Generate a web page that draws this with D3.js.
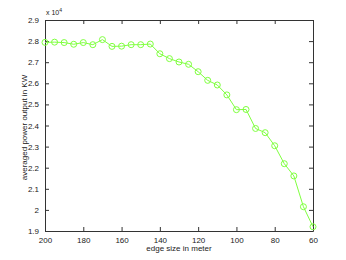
<!DOCTYPE html>
<html>
<head>
<meta charset="utf-8">
<script src="https://cdn.jsdelivr.net/npm/d3@7"></script>
<style>
  body { margin: 0; background: #fff; }
  text { font-family: "Liberation Sans", Arial, sans-serif; fill: #222; }
</style>
</head>
<body>
<div id="chart-area"></div>
<script>
// edge size (m) and averaged power output (KW)
var edgeSize = [200, 195, 190, 185, 180, 175, 170, 165, 160, 155, 150, 145, 140, 135, 130,
                125, 120, 115, 110, 105, 100, 95, 90, 85, 80, 75, 70, 65, 60];
var powerOut = [27940, 27950, 27930, 27850, 27930, 27830, 28070, 27750, 27760, 27830, 27830, 27860,
                27400, 27170, 27010, 26900, 26550, 26140, 25920, 25450, 24750, 24760,
                23860, 23660, 23040, 22190, 21610, 20150, 19200];
var xTicks = [200, 180, 160, 140, 120, 100, 80, 60];
var yTicks = [1.9, 2, 2.1, 2.2, 2.3, 2.4, 2.5, 2.6, 2.7, 2.8, 2.9];

var width = 346, height = 260;
var margin = {left: 45, right: 33, top: 20, bottom: 29};
var w = width - margin.left - margin.right;
var h = height - margin.top - margin.bottom;

var svg = d3.select("#chart-area").append("svg")
    .attr("width", width)
    .attr("height", height);

var g = svg.append("g")
    .attr("transform", "translate(" + margin.left + "," + margin.top + ")");

var x = d3.scaleLinear().domain([200, 60]).range([0, w]);
var y = d3.scaleLinear().domain([1.9, 2.9]).range([h, 0]);

// axes, matlab style ticks pointing inward
var bottom = g.append("g").attr("transform", "translate(0," + h + ")")
    .call(d3.axisBottom(x).tickValues(xTicks).tickSizeInner(-4).tickSizeOuter(0).tickPadding(6));
var top = g.append("g")
    .call(d3.axisTop(x).tickValues(xTicks).tickSizeInner(-4).tickSizeOuter(0).tickFormat(""));
var left = g.append("g")
    .call(d3.axisLeft(y).tickValues(yTicks).tickSizeInner(-4).tickSizeOuter(0).tickPadding(6)
        .tickFormat(d3.format("~g")));
var right = g.append("g").attr("transform", "translate(" + w + ",0)")
    .call(d3.axisRight(y).tickValues(yTicks).tickSizeInner(-4).tickSizeOuter(0).tickFormat(""));

g.selectAll(".domain").attr("stroke", "#333").attr("stroke-width", 1);
g.selectAll(".tick line").attr("stroke", "#333");
g.selectAll(".tick text").attr("font-size", 8).attr("fill", "#222")
    .attr("font-family", "Liberation Sans, Arial, sans-serif");

// exponent label
var expo = svg.append("text")
    .attr("x", margin.left + 1)
    .attr("y", margin.top - 5)
    .attr("font-size", 7);
expo.append("tspan").text("x 10");
expo.append("tspan").attr("dy", -3).attr("font-size", 5).text("4");

var line = d3.line()
    .x((d, i) => x(edgeSize[i]))
    .y((d) => y(d / 10000));

g.append("path")
    .datum(powerOut)
    .attr("fill", "none")
    .attr("stroke", "#80ff40")
    .attr("stroke-width", 1)
    .attr("d", line);

g.selectAll("circle")
    .data(powerOut)
    .enter()
    .append("circle")
        .attr("cx", (d, i) => x(edgeSize[i]))
        .attr("cy", (d) => y(d / 10000))
        .attr("r", 3)
        .attr("fill", "none")
        .attr("stroke", "#80ff40")
        .attr("stroke-width", 1);

svg.append("text")
    .attr("x", margin.left + w / 2)
    .attr("y", 251)
    .attr("text-anchor", "middle")
    .attr("font-size", 8)
    .text("edge size in meter");

svg.append("text")
    .attr("transform", "translate(27," + (margin.top + h / 2 + 2) + ") rotate(-90)")
    .attr("text-anchor", "middle")
    .attr("font-size", 8)
    .text("averaged power output in KW");
</script>
</body>
</html>
